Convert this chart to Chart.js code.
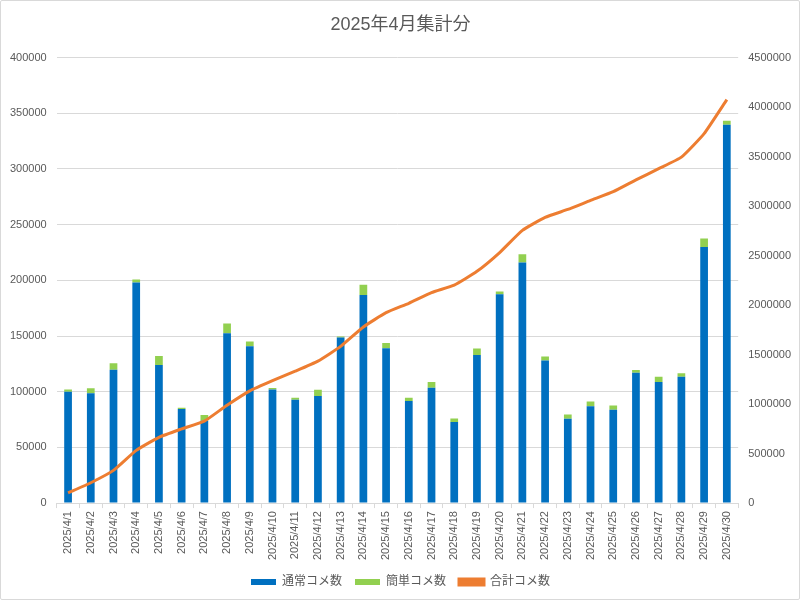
<!DOCTYPE html>
<html>
<head>
<meta charset="utf-8">
<script src="https://cdn.jsdelivr.net/npm/chart.js@4.4.0/dist/chart.umd.min.js"></script>
<style>
    html, body { margin: 0; padding: 0; background: #fff; }
    .chart-box {
        width: 800px;
        height: 600px;
        box-sizing: border-box;
        border: 1px solid #d9d9d9;
        border-radius: 2px;
        position: relative;
    }
</style>
</head>
<body>
<div class="chart-box">
    <canvas id="commentChart"></canvas>
</div>
<script>
// data
const days = [
    '2025/4/1', '2025/4/2', '2025/4/3', '2025/4/4', '2025/4/5', '2025/4/6',
    '2025/4/7', '2025/4/8', '2025/4/9', '2025/4/10', '2025/4/11', '2025/4/12',
    '2025/4/13', '2025/4/14', '2025/4/15', '2025/4/16', '2025/4/17', '2025/4/18',
    '2025/4/19', '2025/4/20', '2025/4/21', '2025/4/22', '2025/4/23', '2025/4/24',
    '2025/4/25', '2025/4/26', '2025/4/27', '2025/4/28', '2025/4/29', '2025/4/30'
];
const normalComments = [
    100000, 98500, 119800, 198000, 124000, 84400, 74000, 152500, 140800, 102000,
    92800, 96100, 148600, 186800, 139000, 91600, 103600, 72700, 133000, 187400,
    216000, 128000, 75700, 87000, 83800, 117000, 108700, 113500, 230000, 339600
];
const simpleComments = [
    2000, 4500, 5700, 2700, 8000, 1200, 5000, 8700, 4300, 1300,
    1800, 5700, 900, 9300, 4800, 3000, 5100, 3300, 5700, 2600,
    7400, 3500, 3900, 4300, 3900, 2500, 4800, 3000, 7500, 3600
];
const totalComments = [
    102000, 205000, 330000, 532000, 664000, 749000, 828000, 989000, 1134000, 1237000,
    1332000, 1434000, 1583000, 1779000, 1923000, 2018000, 2126000, 2202000, 2341000, 2531000,
    2755000, 2886000, 2966000, 3057000, 3145000, 3264000, 3378000, 3494000, 3732000, 4075000
];

const chartFont = "'Liberation Sans', 'Noto Sans CJK JP', sans-serif";
const textColor = '#595959';
const gridColor = '#d9d9d9';

Chart.defaults.font.family = chartFont;
Chart.defaults.color = textColor;

// plain numbers, no thousands separators
const plainTick = (value) => String(value);

const ctx = document.getElementById('commentChart').getContext('2d');
new Chart(ctx, {
    type: 'bar',
    data: {
        labels: days,
        datasets: [
            {
                label: '通常コメ数',
                data: normalComments,
                backgroundColor: '#0070C0',
                yAxisID: 'y',
                order: 1
            },
            {
                label: '簡単コメ数',
                data: simpleComments,
                backgroundColor: '#92D050',
                yAxisID: 'y',
                order: 1
            },
            {
                type: 'line',
                label: '合計コメ数',
                data: totalComments,
                borderColor: '#ED7D31',
                backgroundColor: '#ED7D31',
                borderWidth: 3,
                pointRadius: 0,
                tension: 0.15,
                yAxisID: 'y1',
                order: 0
            }
        ]
    },
    options: {
        responsive: true,
        maintainAspectRatio: false,
        animation: false,
        layout: {
            padding: { left: -1, right: -2, top: 3, bottom: 1 }
        },
        datasets: {
            bar: {
                categoryPercentage: 1,
                barPercentage: 0.34
            }
        },
        scales: {
            x: {
                stacked: true,
                grid: {
                    drawOnChartArea: false,
                    drawTicks: true,
                    tickLength: 5,
                    color: gridColor
                },
                border: { color: gridColor },
                ticks: {
                    font: { size: 11 },
                    maxRotation: 90,
                    minRotation: 90,
                    autoSkip: false,
                    padding: 3
                }
            },
            y: {
                stacked: true,
                position: 'left',
                min: 0,
                max: 400000,
                ticks: {
                    stepSize: 50000,
                    font: { size: 11 },
                    padding: 10,
                    callback: plainTick
                },
                grid: {
                    color: gridColor,
                    drawTicks: false
                },
                border: { display: false }
            },
            y1: {
                stacked: false,
                position: 'right',
                min: 0,
                max: 4500000,
                ticks: {
                    stepSize: 500000,
                    font: { size: 11 },
                    padding: 10,
                    callback: plainTick
                },
                grid: {
                    drawOnChartArea: false,
                    drawTicks: false
                },
                border: { display: false }
            }
        },
        plugins: {
            title: {
                display: true,
                text: '2025年4月集計分',
                color: textColor,
                font: { size: 18, weight: 'normal' },
                padding: { top: 10, bottom: 22 }
            },
            legend: {
                position: 'bottom',
                labels: {
                    boxWidth: 25,
                    boxHeight: 6,
                    padding: 13,
                    font: { size: 12 },
                    color: textColor,
                    sort: (a, b) => a.datasetIndex - b.datasetIndex
                }
            },
            tooltip: { enabled: false }
        }
    }
});
</script>
</body>
</html>
